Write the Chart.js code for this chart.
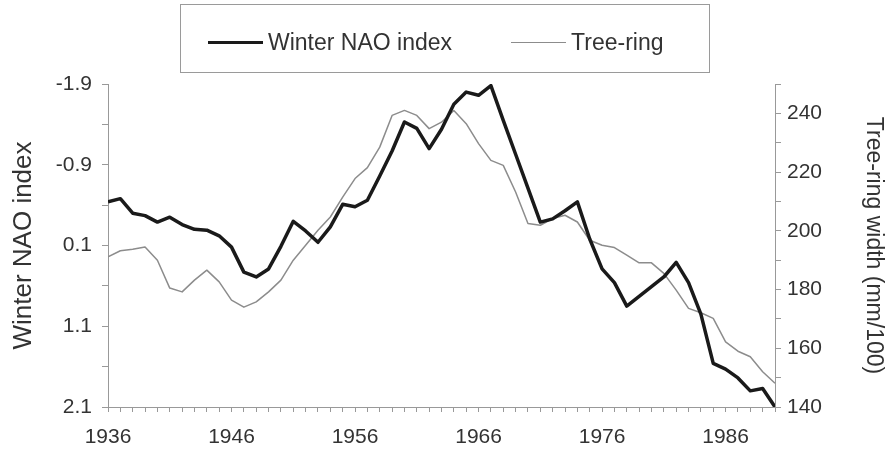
<!DOCTYPE html>
<html><head><meta charset="utf-8">
<script src="https://cdn.jsdelivr.net/npm/chart.js@4"></script>
<style>
html,body{margin:0;padding:0;background:#fff;}
#wrap{position:relative;width:888px;height:454px;overflow:hidden;}
#legend{position:absolute;left:180px;top:4px;width:530px;height:69px;border:1.5px solid #9a9a9a;box-sizing:border-box;display:flex;align-items:center;padding-left:27px;padding-top:8px;font-family:"Liberation Sans",Arial,sans-serif;font-size:23px;color:#333;white-space:nowrap;}
.item{display:flex;align-items:center;margin-right:59px;flex:0 0 auto;}
.swatch{width:55px;margin-right:5px;flex:0 0 auto;}
</style></head><body>
<div id="wrap"><canvas id="c" width="888" height="454"></canvas><div id="legend"></div></div>
<script>
const years = [1936,1937,1938,1939,1940,1941,1942,1943,1944,1945,1946,1947,1948,1949,1950,1951,1952,1953,1954,1955,1956,1957,1958,1959,1960,1961,1962,1963,1964,1965,1966,1967,1968,1969,1970,1971,1972,1973,1974,1975,1976,1977,1978,1979,1980,1981,1982,1983,1984,1985,1986,1987,1988,1989,1990];
const naoIndex = [-0.44,-0.48,-0.30,-0.27,-0.19,-0.25,-0.16,-0.10,-0.09,-0.02,0.12,0.43,0.49,0.39,0.11,-0.20,-0.08,0.06,-0.13,-0.41,-0.38,-0.46,-0.76,-1.07,-1.43,-1.35,-1.10,-1.34,-1.65,-1.80,-1.76,-1.88,-1.45,-1.03,-0.61,-0.19,-0.23,-0.33,-0.44,0.02,0.39,0.56,0.85,0.73,0.61,0.49,0.31,0.56,0.95,1.56,1.63,1.74,1.90,1.87,2.10];
const treeRing = [191.1,193.2,193.7,194.5,190.0,180.5,179.2,183.2,186.6,182.6,176.4,174.0,175.8,179.2,183.2,190.0,195.1,200.2,204.7,211.5,217.8,221.5,228.5,239.3,241.0,239.3,234.8,237.0,241.0,236.5,229.7,224.0,222.3,213.2,202.5,201.9,204.2,205.3,203.0,196.8,195.1,194.3,191.7,189.1,189.1,185.5,179.8,173.6,172.1,170.2,162.2,159.0,157.1,152.0,148.1];
const xTickLabels = ['1936','1946','1956','1966','1976','1986'];
const naoTickLabels = ['-1.9','-0.9','0.1','1.1','2.1'];
const ringTickLabels = ['140','160','180','200','220','240'];
const seriesNames = ['Winter NAO index','Tree-ring'];

Chart.defaults.font.family = '"Liberation Sans", Arial, sans-serif';
Chart.defaults.color = '#333';

const axisGrey = '#999';
const datasets = [
  {label: seriesNames[0], data: years.map((y,i)=>({x:y,y:naoIndex[i]})), yAxisID:'y', borderColor:'#1a1a1a', borderWidth:3.5, pointRadius:0, tension:0, borderJoinStyle:'round', fill:false},
  {label: seriesNames[1], data: years.map((y,i)=>({x:y,y:treeRing[i]})), yAxisID:'y1', borderColor:'#8c8c8c', borderWidth:1.5, pointRadius:0, tension:0, borderJoinStyle:'round', fill:false}
];

new Chart(document.getElementById('c'), {
  type:'line',
  data:{datasets},
  options:{
    responsive:false, animation:false, devicePixelRatio:1,
    layout:{padding:{top:84,left:0,right:0,bottom:0}},
    plugins:{legend:{display:false}, tooltip:{enabled:false}},
    scales:{
      x:{type:'linear', position:'bottom', min:1936, max:1990,
        ticks:{stepSize:1, autoSkip:false, maxRotation:0, minRotation:0, padding:13, font:{size:21}, color:'#333',
          callback:(v)=> xTickLabels.includes(String(v)) ? String(v) : ''},
        grid:{drawOnChartArea:false, drawTicks:true, tickLength:5, color:axisGrey},
        border:{display:true, color:axisGrey, width:1},
        afterFit:(s)=>{s.height=47;}
      },
      y:{type:'linear', position:'left', reverse:true, min:-1.9, max:2.1,
        ticks:{stepSize:0.5, autoSkip:false, padding:10, font:{size:21}, color:'#333',
          callback:(v)=>{const s=Number(v).toFixed(1); return naoTickLabels.includes(s)?s:'';}},
        grid:{drawOnChartArea:false, drawTicks:true, tickLength:6, color:axisGrey},
        border:{display:true, color:axisGrey, width:1},
        title:{display:true, text:'Winter NAO index', font:{size:26}, color:'#333', padding:{top:8,bottom:0}},
        afterFit:(s)=>{s.width=108;}
      },
      y1:{type:'linear', position:'right', min:140, max:250,
        ticks:{stepSize:10, autoSkip:false, padding:6, font:{size:21}, color:'#333',
          callback:(v)=>{const s=String(Math.round(v)); return ringTickLabels.includes(s)?s:'';}},
        grid:{drawOnChartArea:false, drawTicks:true, tickLength:6, color:axisGrey},
        border:{display:true, color:axisGrey, width:1},
        title:{display:true, text:'Tree-ring width (mm/100)', font:{size:23}, color:'#333', padding:{top:1,bottom:0}},
        afterFit:(s)=>{s.width=113;}
      }
    }
  }
});

const legend = document.getElementById('legend');
datasets.forEach(ds=>{
  const item = document.createElement('div'); item.className='item';
  const sw = document.createElement('span'); sw.className='swatch';
  sw.style.height = ds.borderWidth+'px'; sw.style.background = ds.borderColor;
  const tx = document.createElement('span'); tx.textContent = ds.label;
  item.appendChild(sw); item.appendChild(tx); legend.appendChild(item);
});
</script>
</body></html>
